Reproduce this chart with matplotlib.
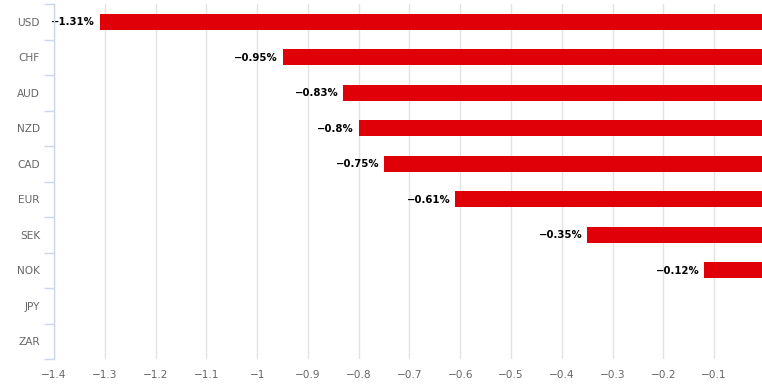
import matplotlib
matplotlib.use("Agg")
import matplotlib.pyplot as plt
import numpy as np

currencies = ["USD", "CHF", "AUD", "NZD", "CAD", "EUR", "SEK", "NOK", "JPY", "ZAR"]
changes = [-1.31, -0.95, -0.83, -0.8, -0.75, -0.61, -0.35, -0.12, None, None]
xticks = [-1.4, -1.3, -1.2, -1.1, -1.0, -0.9, -0.8, -0.7, -0.6, -0.5, -0.4, -0.3, -0.2, -0.1]

plt.rcParams["font.family"] = ["DejaVu Sans"]

fig = plt.figure(figsize=(7.62, 3.88), dpi=100)
ax = fig.add_axes([54 / 762, 29 / 388, 1 - 54 / 762, 355 / 388])

y = np.arange(len(currencies))
for yi, v in zip(y, changes):
    if v is None:
        continue
    ax.barh(yi, v, height=0.45, color="#e00008", zorder=3)
    label = ("{:g}%".format(v)).replace("-", "\u2212")
    ax.text(v - 0.009, yi + 0.02, label, ha="right", va="center",
            fontsize=7.3, fontweight="bold", color="#000000", zorder=4)

ax.set_xlim(-1.4, -0.0057)
ax.set_ylim(len(currencies) - 0.5, -0.5)

ax.set_xticks(xticks)
ax.set_xticklabels([("{:g}".format(t)).replace("-", "\u2212") for t in xticks])
ax.tick_params(axis="x", length=0, pad=8, labelsize=7.6, labelcolor="#666666")
ax.grid(axis="x", color="#e3e3e3", linewidth=1, zorder=0)

ax.set_yticks(y)
ax.set_yticklabels(currencies)
ax.set_yticks(np.arange(-0.5, len(currencies) + 0.5, 1), minor=True)
ax.tick_params(axis="y", which="major", length=0, pad=10, labelsize=7.6, labelcolor="#666666")
ax.tick_params(axis="y", which="minor", length=7, width=1, color="#ccd6eb")

for s in ["top", "right", "bottom"]:
    ax.spines[s].set_visible(False)
ax.spines["left"].set_color("#ccd6eb")
ax.spines["left"].set_linewidth(1)
ax.spines["left"].set_zorder(5)

fig.savefig("out.png", dpi=100)
